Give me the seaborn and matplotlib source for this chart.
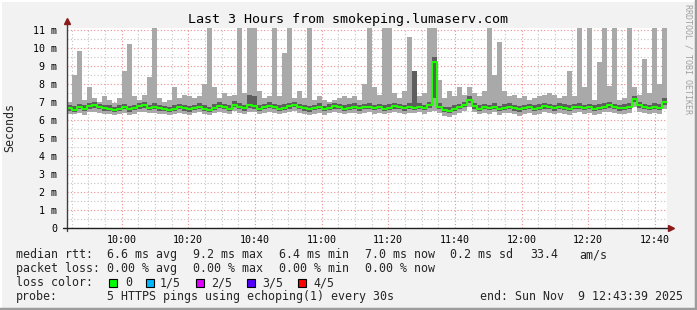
import numpy as np
import pandas as pd
import matplotlib
matplotlib.use("Agg")
import matplotlib.pyplot as plt
import matplotlib.dates as mdates
from matplotlib.ticker import MultipleLocator, FixedLocator, FixedFormatter
from matplotlib.patches import Rectangle
from matplotlib.lines import Line2D
import seaborn as sns

# ---------------- data (ms), one value per 90 s bin, 09:43:39 .. 12:43:39 ----------------
start_time = "2025-11-09 09:43:39"
end_time = "2025-11-09 12:43:39"
bin_seconds = 90

median_ms = [
    6.65, 6.55, 6.70, 6.60, 6.75, 6.80, 6.70, 6.65, 6.60, 6.55, 6.62, 6.70, 6.58, 6.66, 6.75, 6.80, 6.68, 6.72, 6.65, 6.60,
    6.55, 6.62, 6.70, 6.64, 6.58, 6.66, 6.72, 6.60, 6.55, 6.68, 6.78, 6.70, 6.62, 6.85, 6.72, 6.65, 6.80, 6.75, 6.62, 6.70,
    6.78, 6.70, 6.62, 6.68, 6.75, 6.82, 6.70, 6.64, 6.58, 6.66, 6.72, 6.60, 6.68, 6.75, 6.70, 6.62, 6.68, 6.72, 6.65, 6.70,
    6.74, 6.66, 6.70, 6.62, 6.68, 6.75, 6.70, 6.64, 6.72, 6.68, 6.74, 6.66, 6.80, 9.20, 6.72, 6.55, 6.50, 6.60, 6.70, 6.82,
    7.10, 6.75, 6.62, 6.70, 6.66, 6.74, 6.60, 6.68, 6.72, 6.64, 6.58, 6.66, 6.70, 6.62, 6.68, 6.75, 6.70, 6.64, 6.72, 6.68,
    6.62, 6.70, 6.74, 6.66, 6.70, 6.62, 6.68, 6.74, 6.80, 6.70, 6.64, 6.68, 6.72, 7.15, 6.80, 6.70, 6.66, 6.72, 6.68, 7.00,
]
ping_min_ms = [
    6.35, 6.30, 6.40, 6.28, 6.42, 6.45, 6.38, 6.32, 6.30, 6.25, 6.33, 6.40, 6.28, 6.35, 6.42, 6.45, 6.36, 6.40, 6.32, 6.30,
    6.26, 6.34, 6.40, 6.33, 6.28, 6.36, 6.42, 6.30, 6.25, 6.38, 6.45, 6.40, 6.32, 6.48, 6.40, 6.34, 6.45, 6.42, 6.30, 6.38,
    6.44, 6.38, 6.30, 6.36, 6.42, 6.48, 6.38, 6.33, 6.26, 6.34, 6.40, 6.28, 6.36, 6.44, 6.38, 6.30, 6.36, 6.40, 6.32, 6.38,
    6.42, 6.34, 6.38, 6.30, 6.36, 6.44, 6.38, 6.32, 6.40, 6.36, 6.42, 6.34, 6.45, 6.50, 6.38, 6.22, 6.18, 6.28, 6.38, 6.48,
    6.70, 6.42, 6.30, 6.38, 6.34, 6.42, 6.28, 6.36, 6.40, 6.32, 6.22, 6.30, 6.36, 6.28, 6.34, 6.42, 6.36, 6.30, 6.40, 6.34,
    6.28, 6.36, 6.42, 6.32, 6.36, 6.28, 6.34, 6.42, 6.46, 6.36, 6.30, 6.34, 6.40, 6.70, 6.45, 6.36, 6.32, 6.40, 6.34, 6.60,
]
ping_p2_ms = [
    6.52, 6.42, 6.58, 6.48, 6.62, 6.68, 6.58, 6.52, 6.48, 6.42, 6.50, 6.58, 6.46, 6.54, 6.62, 6.68, 6.56, 6.60, 6.52, 6.48,
    6.42, 6.50, 6.58, 6.52, 6.46, 6.54, 6.60, 6.48, 6.42, 6.56, 6.66, 6.58, 6.50, 6.72, 6.60, 6.52, 6.68, 6.62, 6.50, 6.58,
    6.66, 6.58, 6.50, 6.56, 6.62, 6.70, 6.58, 6.52, 6.46, 6.54, 6.60, 6.48, 6.56, 6.62, 6.58, 6.50, 6.56, 6.60, 6.52, 6.58,
    6.62, 6.54, 6.58, 6.50, 6.56, 6.62, 6.58, 6.52, 6.60, 6.56, 6.62, 6.54, 6.68, 7.20, 6.60, 6.42, 6.38, 6.48, 6.58, 6.70,
    6.95, 6.62, 6.50, 6.58, 6.54, 6.62, 6.48, 6.56, 6.60, 6.52, 6.46, 6.54, 6.58, 6.50, 6.56, 6.62, 6.58, 6.52, 6.60, 6.56,
    6.50, 6.58, 6.62, 6.54, 6.58, 6.50, 6.56, 6.62, 6.68, 6.58, 6.52, 6.56, 6.60, 7.00, 6.68, 6.58, 6.54, 6.60, 6.56, 6.85,
]
ping_p4_ms = [
    6.85, 6.75, 6.90, 6.80, 6.95, 7.00, 6.90, 6.85, 6.80, 6.72, 6.80, 6.90, 6.75, 6.85, 6.95, 7.00, 6.85, 6.92, 6.82, 6.78,
    6.72, 6.80, 6.88, 6.82, 6.75, 6.85, 6.92, 6.80, 6.72, 6.88, 6.98, 6.90, 6.80, 7.05, 6.92, 6.82, 7.40, 7.35, 6.80, 6.88,
    6.98, 6.88, 6.80, 6.88, 6.95, 7.02, 6.88, 6.82, 6.75, 6.85, 6.92, 6.78, 6.86, 6.95, 6.88, 6.80, 6.86, 6.92, 6.82, 6.90,
    6.95, 6.85, 6.90, 6.80, 6.88, 6.95, 6.90, 6.82, 6.92, 8.70, 6.95, 6.85, 7.00, 9.50, 6.92, 6.72, 6.70, 6.80, 6.90, 7.02,
    7.30, 6.95, 6.80, 6.90, 6.85, 6.95, 6.78, 6.88, 6.92, 6.82, 6.75, 6.85, 6.90, 6.80, 6.88, 6.95, 6.90, 6.82, 6.92, 6.88,
    6.82, 6.90, 6.95, 6.85, 6.90, 6.80, 6.88, 6.95, 7.00, 6.90, 6.82, 6.88, 6.92, 7.35, 7.00, 6.90, 6.85, 6.92, 6.88, 7.20,
]
ping_max_ms = [
    7.00, 8.50, 9.85, 7.10, 7.80, 7.20, 7.00, 7.30, 7.10, 6.95, 7.20, 8.70, 10.20, 7.30, 7.10, 7.40, 8.40, 11.10, 7.20, 7.00,
    7.10, 7.80, 7.20, 7.40, 7.30, 7.20, 7.30, 8.00, 11.10, 7.80, 7.20, 7.50, 7.30, 7.40, 11.10, 7.50, 11.10, 11.10, 7.60, 7.20,
    7.30, 11.10, 7.30, 9.70, 11.10, 7.20, 7.60, 7.20, 11.10, 7.10, 7.30, 7.10, 7.00, 7.10, 7.20, 7.30, 7.20, 7.30, 7.10, 8.00,
    11.10, 7.80, 7.40, 11.10, 11.10, 7.50, 7.20, 7.60, 10.60, 8.70, 7.30, 7.50, 11.10, 11.10, 8.20, 7.20, 7.60, 7.30, 7.80, 7.40,
    7.80, 7.50, 7.30, 7.60, 11.10, 8.50, 10.30, 7.60, 7.30, 7.40, 7.20, 7.30, 7.10, 7.20, 7.30, 7.40, 7.50, 7.40, 7.20, 7.30,
    8.70, 7.30, 11.10, 7.80, 11.10, 7.10, 9.20, 11.10, 7.90, 11.10, 7.10, 7.20, 11.10, 7.80, 7.40, 9.40, 7.50, 11.10, 8.00, 11.10,
]

y_ticks = [0, 1, 2, 3, 4, 5, 6, 7, 8, 9, 10, 11]
y_tick_labels = ["0", "1 m", "2 m", "3 m", "4 m", "5 m", "6 m", "7 m", "8 m", "9 m", "10 m", "11 m"]

title = "Last 3 Hours from smokeping.lumaserv.com"
y_label = "Seconds"
rtt_fields = ["6.6 ms avg", "9.2 ms max", "6.4 ms min", "7.0 ms now", "0.2 ms sd", "33.4", "am/s"]
loss_fields = ["0.00 % avg", "0.00 % max", "0.00 % min", "0.00 % now"]
loss_labels = ["0", "1/5", "2/5", "3/5", "4/5"]
loss_colors = ["#00ff00", "#00b8ff", "#dd00ff", "#5500ff", "#ff0000"]
probe_text = "5 HTTPS pings using echoping(1) every 30s"
end_text = "end: Sun Nov  9 12:43:39 2025"

n = len(median_ms)
assert all(len(a) == n for a in (ping_min_ms, ping_p2_ms, ping_p4_ms, ping_max_ms))

# ---------------- figure ----------------
sns.set_theme(style="white")
plt.rcParams["font.family"] = ["DejaVu Sans Mono", "DejaVu Sans"]

W, H = 697, 310
BG = "#f2f2f2"
fig = plt.figure(figsize=(W / 100, H / 100), dpi=100, facecolor=BG)

def fx(px):
    return px / W

def fy(py):
    return 1 - py / H

ax = fig.add_axes([fx(67), fy(228), 600 / W, 200 / H])
ax.set_facecolor("white")

t0 = pd.Timestamp(start_time)
edges = t0 + pd.to_timedelta(np.arange(n + 1) * bin_seconds, unit="s")
df = pd.DataFrame({
    "time": edges,
    "median": median_ms + [median_ms[-1]],
    "lo": ping_min_ms + [ping_min_ms[-1]],
    "p2": ping_p2_ms + [ping_p2_ms[-1]],
    "p4": ping_p4_ms + [ping_p4_ms[-1]],
    "hi": ping_max_ms + [ping_max_ms[-1]],
})

ax.fill_between(df["time"], df["lo"], df["hi"], step="post", color="#a9a9a9", lw=0, zorder=2)
ax.fill_between(df["time"], df["p2"], df["p4"], step="post", color="#5e5e5e", lw=0, zorder=3)
sns.lineplot(data=df, x="time", y="median", ax=ax, color="#22ff00", lw=1.5,
             drawstyle="steps-post", estimator=None, legend=False, zorder=4)

ax.set_xlim(t0, pd.Timestamp(end_time))
ax.set_ylim(0, 11.1)

# grid
ax.xaxis.set_major_locator(mdates.MinuteLocator(byminute=[0, 20, 40]))
ax.xaxis.set_minor_locator(mdates.MinuteLocator(byminute=range(0, 60, 5)))
ax.xaxis.set_major_formatter(mdates.DateFormatter("%H:%M"))
ax.yaxis.set_major_locator(FixedLocator(y_ticks))
ax.yaxis.set_major_formatter(FixedFormatter(y_tick_labels))
ax.yaxis.set_minor_locator(MultipleLocator(0.5))
ax.grid(which="minor", color="#c4c4c4", linestyle=(0, (1, 2)), lw=0.8, zorder=1)
ax.grid(which="major", color="#f08c8c", linestyle=(0, (1, 2)), lw=0.8, zorder=1)
ax.set_axisbelow(True)

for s in ax.spines.values():
    s.set_visible(False)

ax.tick_params(axis="both", which="major", labelsize=7.2, colors="#000000", length=3, width=0.8,
               direction="inout", pad=3)
ax.tick_params(axis="x", which="major", color="#dd4444", direction="in", length=2, pad=5)
ax.tick_params(axis="x", which="minor", color="#999999", direction="in", length=1.5, width=0.6)
ax.tick_params(axis="y", which="minor", length=0)
ax.tick_params(axis="y", which="major", color="#555555", length=3, direction="out", pad=4)
for lab in ax.get_yticklabels() + ax.get_xticklabels():
    lab.set_fontfamily("DejaVu Sans Mono")

ax.set_xlabel("")
ax.set_ylabel("")
fig.text(fx(10), fy(127), y_label, rotation=90, ha="center", va="center", fontsize=8.4)

# axis lines with arrows
fig.add_artist(Line2D([fx(67), fx(67)], [fy(231), fy(22)], color="#404040", lw=1.0))
fig.add_artist(Line2D([fx(63), fx(670)], [fy(228), fy(228)], color="#202020", lw=1.0))
fig.add_artist(Line2D([fx(67)], [fy(21)], marker="^", markersize=4.5, color="#8b1a1a", lw=0))
fig.add_artist(Line2D([fx(671)], [fy(228)], marker=">", markersize=4.5, color="#8b1a1a", lw=0))

# title
fig.text(fx(348.5), fy(19), title, ha="center", va="center", fontsize=9.6, color="#000000")

# right vertical credit
fig.text(fx(688), fy(4), "RRDTOOL / TOBI OETIKER", rotation=270, ha="center", va="top",
         fontsize=6.0, color="#a0a0a0")

# legend block
LS = 8.35
fig.text(fx(16), fy(254.5), "median rtt:", ha="left", va="center", fontsize=LS)
for xp, s in zip([107, 193, 279, 365, 450, 530, 579], rtt_fields):
    fig.text(fx(xp), fy(254.5), s, ha="left", va="center", fontsize=LS)
fig.text(fx(16), fy(268.5), "packet loss:", ha="left", va="center", fontsize=LS)
for xp, s in zip([107, 193, 279, 365], loss_fields):
    fig.text(fx(xp), fy(268.5), s, ha="left", va="center", fontsize=LS)
fig.text(fx(16), fy(282.5), "loss color:", ha="left", va="center", fontsize=LS)
for sq_x, tx_x, lab, col in zip([109, 146, 196, 247, 298], [125, 160, 211, 262, 313], loss_labels, loss_colors):
    fig.add_artist(Rectangle((fx(sq_x), fy(286.5)), 8 / W, 8 / H, transform=fig.transFigure,
                             facecolor=col, edgecolor="black", lw=0.8))
    fig.text(fx(tx_x), fy(282.5), lab, ha="left", va="center", fontsize=LS)
fig.text(fx(16), fy(296.5), "probe:", ha="left", va="center", fontsize=LS)
fig.text(fx(107), fy(296.5), probe_text, ha="left", va="center", fontsize=LS)
fig.text(fx(480), fy(296.5), end_text, ha="left", va="center", fontsize=LS)

# frame border
fig.add_artist(Line2D([0, 1], [fy(0.5), fy(0.5)], color="#ffffff", lw=1.5))
fig.add_artist(Line2D([fx(0.5), fx(0.5)], [0, 1], color="#ffffff", lw=1.5))
fig.add_artist(Line2D([0, 1], [fy(308.5), fy(308.5)], color="#9c9c9c", lw=2.5))
fig.add_artist(Line2D([fx(695.5), fx(695.5)], [0, 1], color="#9c9c9c", lw=2.5))

fig.savefig("out.png", dpi=100, facecolor=BG)
